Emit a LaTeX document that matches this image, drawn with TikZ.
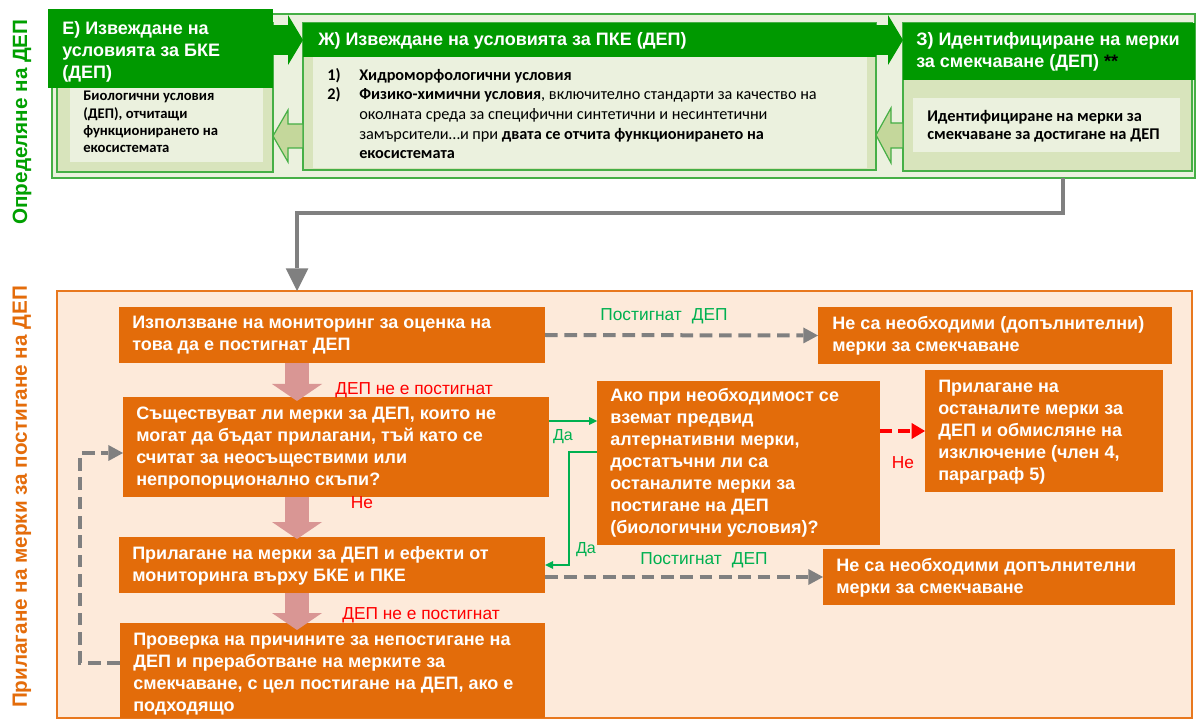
\documentclass[tikz,border=0pt]{standalone}
\usepackage{fontspec}
\setmainfont{Liberation Sans}
\newfontfamily\calib{Carlito}
\usetikzlibrary{arrows.meta,calc,fit}
\definecolor{dkgreen}{RGB}{0,153,0}
\definecolor{lngreen}{RGB}{70,175,70}
\definecolor{paleg}{RGB}{235,241,222}
\definecolor{midg}{RGB}{216,228,188}
\definecolor{arrg}{RGB}{196,215,155}
\definecolor{orbox}{RGB}{227,108,10}
\definecolor{peach}{RGB}{253,234,218}
\definecolor{orframe}{RGB}{232,120,30}
\definecolor{pinkc}{RGB}{217,150,148}
\definecolor{greyc}{RGB}{128,128,128}
\definecolor{lblgreen}{RGB}{0,176,80}
\definecolor{vgreen}{RGB}{0,160,0}
\definecolor{vorange}{RGB}{228,108,10}
\begin{document}
\begin{tikzpicture}[x=0.75pt,y=-0.75pt,
  bx/.style={inner sep=0pt, outer sep=0pt},
  obox/.style={bx, fill=orbox},
  hdr/.style={bx, fill=dkgreen},
  otxt/.style={inner sep=0pt, anchor=west, align=left, text=white, font=\bfseries\fontsize{13.5}{16.5}\selectfont},
  htxt/.style={inner sep=0pt, anchor=west, align=left, text=white, font=\bfseries\fontsize{13.5}{16.5}\selectfont},
  ctxt/.style={inner sep=0pt, anchor=west, align=left, text=black, font=\calib\fontsize{12.2}{14.8}\selectfont},
  cbtxt/.style={inner sep=0pt, anchor=west, align=left, text=black, font=\calib\bfseries\fontsize{11}{13}\selectfont},
  lbl/.style={inner sep=0pt, font=\fontsize{13}{15}\selectfont},
  gdash/.style={draw=greyc, line width=3pt, dash pattern=on 9.5pt off 5pt, -{Triangle[length=11pt,width=12pt,line width=0pt]}},
  rdash/.style={draw=red, line width=3pt, dash pattern=on 9pt off 4.5pt, -{Triangle[length=10pt,width=12pt,line width=0pt]}},
  garr/.style={draw=lblgreen, line width=1.1pt, -{Triangle[length=6pt,width=6pt,line width=0pt]}},
  gline/.style={draw=greyc, line width=3pt, -{Triangle[length=17pt,width=17pt,line width=0pt]}},
  parr/.style={draw=pinkc, line width=18pt, -{Triangle[length=12.75pt,width=37.5pt,line width=0pt]}},
  darr/.style={draw=dkgreen, line width=22.5pt, -{Triangle[length=11.25pt,width=37.5pt,line width=0pt]}},
  larr/.style={fill=arrg, draw=lngreen, line width=0.9pt, line join=miter}
]
\useasboundingbox (0,0) rectangle (1197,720);
\fill[white] (0,0) rectangle (1197,720);

% ---------- top section ----------
\node[bx, fill=paleg, draw=lngreen, line width=1.5pt, fit={(52,14)(1195,178)}] (topf) {};

% E column
\node[bx, fill=midg, draw=lngreen, line width=1.2pt, fit={(57,23)(273,172)}] (ef) {};
\node[bx, fill=paleg, fit={(70,88)(263,162)}] (eb) {};
\node[cbtxt] (ebt) at ($(eb.west)+(13,-3)$) {Биологични условия\\(ДЕП), отчитащи\\функционирането на\\екосистемата};
\node[hdr, fit={(48,9)(273,88)}] (eh) {};
\node[htxt] (eht) at ($(eh.west)+(14,3)$) {Е) Извеждане на\\условията за БКЕ\\(ДЕП)};

% Zh column
\node[bx, fill=midg, draw=lngreen, line width=1.2pt, fit={(303,23)(876,170)}] (jf) {};
\node[bx, fill=paleg, fit={(313,57)(867,168)}] (jb) {};
\node[hdr, fit={(303,23)(876,57)}] (jh) {};
\node[htxt] (jht) at ($(jh.west)+(15,1)$) {Ж) Извеждане на условията за ПКЕ (ДЕП)};
\node[ctxt] (jbt) at ($(jb.west)+(14,1)$) {\makebox[24pt][l]{\textbf{1)}}\textbf{Хидроморфологични условия}\\
\makebox[24pt][l]{\textbf{2)}}\textbf{Физико-химични условия}, включително стандарти за качество на\\
\hspace*{24pt}околната среда за специфични синтетични и несинтетични\\
\hspace*{24pt}замърсители…и при \textbf{двата се отчита функционирането на}\\
\hspace*{24pt}\textbf{екосистемата}};

% Z column
\node[bx, fill=midg, draw=lngreen, line width=1.2pt, fit={(903,23)(1192,171)}] (zf) {};
\node[bx, fill=paleg, fit={(913,98)(1180,152)}] (zb) {};
\node[hdr, fit={(903,23)(1195,80)}] (zh) {};
\node[htxt] (zht) at ($(zh.west)+(13,0)$) {З) Идентифициране на мерки\\за смекчаване (ДЕП) \textcolor{black}{**}};
\node[cbtxt, font=\calib\bfseries\fontsize{12.3}{13.5}\selectfont] (zbt) at ($(zb.west)+(14,1)$) {Идентифициране на мерки за\\смекчаване за достигане на ДЕП};

% arrows between columns
\draw[darr] (eh.east |- jh.west) -- (jh.west);
\draw[darr] (jh.east) -- (zh.west |- jh.east);
\draw[larr] (303,124) -- (288,124) -- (288,110) -- (273,136) -- (288,162) -- (288,148) -- (303,148) -- cycle;
\draw[larr] (903,123) -- (891,123) -- (891,108) -- (876,135) -- (891,163) -- (891,148) -- (903,148) -- cycle;

% vertical titles
\node[rotate=90, inner sep=0pt, text=vgreen, font=\bfseries\fontsize{15.5}{18}\selectfont] (vt1) at (22,122) {Определяне на ДЕП};
\node[rotate=90, inner sep=0pt, text=vorange, font=\bfseries\fontsize{15.5}{18}\selectfont] (vt2) at (22,497) {Прилагане на мерки за постигане на ДЕП};

% ---------- bottom section ----------
\node[bx, fill=peach, draw=orframe, line width=1.5pt, fit={(57,291)(1192,718)}] (botf) {};
\draw[gline] ($(topf.south west)+(1011,0)$) -- ++(0,35) -| ($(botf.north west)+(240,0)$);

\node[obox, fit={(119,307)(545,363)}] (b1) {};
\node[otxt] (b1t) at ($(b1.west)+(13,0)$) {Използване на мониторинг за оценка на\\това да е постигнат ДЕП};
\node[obox, fit={(123,397)(549,497)}] (b2) {};
\node[otxt] (b2t) at ($(b2.west)+(13,1)$) {Съществуват ли мерки за ДЕП, които не\\могат да бъдат прилагани, тъй като се\\считат за неосъществими или\\непропорционално скъпи?};
\node[obox, fit={(119,537)(545,593)}] (b3) {};
\node[otxt] (b3t) at ($(b3.west)+(13,1)$) {Прилагане на мерки за ДЕП и ефекти от\\мониторинга върху БКЕ и ПКЕ};
\node[obox, fit={(120,623)(545,718)}] (b4) {};
\node[otxt] (b4t) at ($(b4.west)+(13,3.5)$) {Проверка на причините за непостигане на\\ДЕП и преработване на мерките за\\смекчаване, с цел постигане на ДЕП, ако е\\подходящо};
\node[obox, fit={(597,381)(880,545)}] (q) {};
\node[otxt] (qt) at ($(q.west)+(13,0)$) {Ако при необходимост се\\вземат предвид\\алтернативни мерки,\\достатъчни ли са\\останалите мерки за\\постигане на ДЕП\\(биологични условия)?};
\node[obox, fit={(818,307)(1172,364)}] (r1) {};
\node[otxt] (r1t) at ($(r1.west)+(14,0)$) {Не са необходими (допълнителни)\\мерки за смекчаване};
\node[obox, fit={(925,370)(1163,492)}] (r3) {};
\node[otxt] (r3t) at ($(r3.west)+(13,1)$) {Прилагане на\\останалите мерки за\\ДЕП и обмисляне на\\изключение (член 4,\\параграф 5)};
\node[obox, fit={(823,549)(1175,605)}] (r2) {};
\node[otxt] (r2t) at ($(r2.west)+(13,1)$) {Не са необходими допълнителни\\мерки за смекчаване};

% pink arrows
\draw[parr] ($(b1.south west)+(178,0)$) -- ($(b2.north west)+(174,4)$);
\draw[parr] ($(b2.south west)+(174,0)$) -- ($(b3.north west)+(178,2)$);
\draw[parr] ($(b3.south west)+(178,0)$) -- ($(b4.north west)+(177,7)$);

% connectors
\draw[gdash] (b1.east) -- (r1.west);
\draw[gdash] (b3.east |- r2.west) -- (r2.west);
\draw[gdash] ([yshift=6pt]b4.west) -- ++(-40,0) |- ([yshift=-4.5pt]b2.west);
\coordinate (da1) at ($(b2.east)+(0,-26)$);
\draw[garr] (da1) -- (da1 -| q.west);
\draw[garr] ($(q.west)+(0,-11)$) -| ($(b3.east)+(24,0)$) -- (b3.east);
\draw[rdash] (q.east |- r3.west) -- (r3.west);

% labels
\node[lbl, text=lblgreen] (l1) at (664,316) {Постигнат\hspace{0.3em} ДЕП};
\node[lbl, text=red, anchor=west] (l2) at (335,390) {ДЕП не е постигнат};
\node[lbl, text=lblgreen, font=\fontsize{12}{14}\selectfont] (l3) at (563,437) {Да};
\node[lbl, text=lblgreen, font=\fontsize{12}{14}\selectfont] (l4) at (586,550) {Да};
\node[lbl, text=red] (l5) at (903,463) {Не};
\node[lbl, text=red] (l6) at (362,503) {Не};
\node[lbl, text=lblgreen] (l7) at (704,560) {Постигнат\hspace{0.3em} ДЕП};
\node[lbl, text=red, anchor=west] (l8) at (342,615) {ДЕП не е постигнат};
\end{tikzpicture}
\end{document}
